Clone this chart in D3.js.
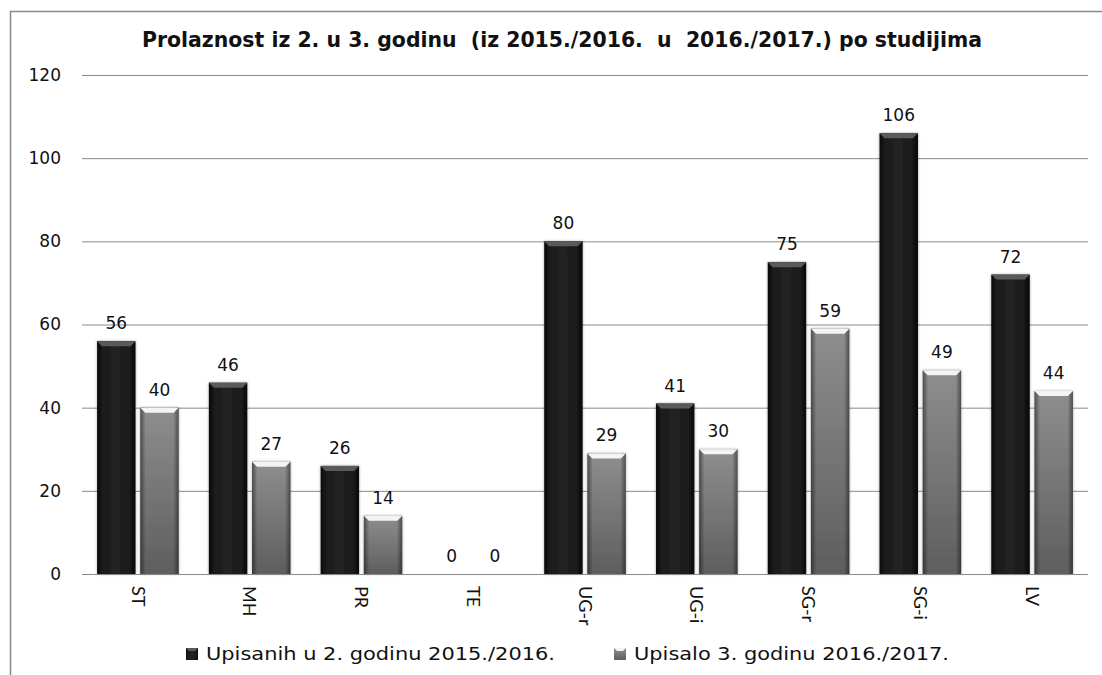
<!DOCTYPE html>
<html>
<head>
<meta charset="utf-8">
<script src="https://cdn.jsdelivr.net/npm/d3@7"></script>
<style>
  body { margin: 0; background: #fff; }
  svg text { font-family: "DejaVu Sans", sans-serif; fill: #111; }
</style>
</head>
<body>
<div id="chart"></div>
<script>
// data
var categories = ["ST", "MH", "PR", "TE", "UG-r", "UG-i", "SG-r", "SG-i", "LV"];
var upisanih = [56, 46, 26, 0, 80, 41, 75, 106, 72];
var upisalo = [40, 27, 14, 0, 29, 30, 59, 49, 44];
var seriesNames = ["Upisanih u 2. godinu 2015./2016.", "Upisalo 3. godinu 2016./2017."];
var yTicks = [0, 20, 40, 60, 80, 100, 120];

var W = 1102, H = 675;
var margin = {top: 75, left: 82, right: 14, bottom: 101};
var width = W - margin.left - margin.right,
    height = H - margin.top - margin.bottom;

var svg = d3.select("#chart").append("svg")
    .attr("width", W).attr("height", H);

// outer border
svg.append("rect")
    .attr("x", 10.5).attr("y", 11.5)
    .attr("width", W).attr("height", H)
    .attr("fill", "none").attr("stroke", "#888").attr("stroke-width", 1.5);

var defs = svg.append("defs");

// black bar gradient
var gb = defs.append("linearGradient").attr("id", "gBlack").attr("x1", 0).attr("x2", 1).attr("y1", 0).attr("y2", 0);
gb.append("stop").attr("offset", "0%").attr("stop-color", "#080808");
gb.append("stop").attr("offset", "15%").attr("stop-color", "#1c1c1c");
gb.append("stop").attr("offset", "50%").attr("stop-color", "#222");
gb.append("stop").attr("offset", "85%").attr("stop-color", "#1a1a1a");
gb.append("stop").attr("offset", "100%").attr("stop-color", "#050505");

// grey bar gradient
var gg = defs.append("linearGradient").attr("id", "gGrey").attr("x1", 0).attr("x2", 0).attr("y1", 0).attr("y2", 1);
gg.append("stop").attr("offset", "0%").attr("stop-color", "#8e8e8e");
gg.append("stop").attr("offset", "100%").attr("stop-color", "#5e5e5e");

var ge = defs.append("linearGradient").attr("id", "gEdge").attr("x1", 0).attr("x2", 1).attr("y1", 0).attr("y2", 0);
ge.append("stop").attr("offset", "0%").attr("stop-color", "#000").attr("stop-opacity", 0.45);
ge.append("stop").attr("offset", "14%").attr("stop-color", "#000").attr("stop-opacity", 0);
ge.append("stop").attr("offset", "86%").attr("stop-color", "#000").attr("stop-opacity", 0);
ge.append("stop").attr("offset", "100%").attr("stop-color", "#000").attr("stop-opacity", 0.45);

var shadow = defs.append("filter").attr("id", "shadow").attr("x", "-20%").attr("y", "-5%").attr("width", "140%").attr("height", "110%");
shadow.append("feGaussianBlur").attr("in", "SourceAlpha").attr("stdDeviation", 1.5).attr("result", "b");
shadow.append("feComponentTransfer").attr("in", "b").attr("result", "s")
    .append("feFuncA").attr("type", "linear").attr("slope", 0.35);
var fm = shadow.append("feMerge");
fm.append("feMergeNode").attr("in", "s");
fm.append("feMergeNode").attr("in", "SourceGraphic");

// title
svg.append("text")
    .attr("x", 142).attr("y", 47)
    .attr("textLength", 840).attr("lengthAdjust", "spacingAndGlyphs")
    .style("white-space", "pre")
    .style("font-size", "21px").style("font-weight", "bold")
    .text("Prolaznost iz 2. u 3. godinu  (iz 2015./2016.  u  2016./2017.) po studijima");

var g = svg.append("g").attr("transform", "translate(" + margin.left + "," + margin.top + ")");

var y = d3.scaleLinear().domain([0, 120]).range([height, 0]);
var x0 = d3.scaleBand().domain(categories).range([0, width]).paddingInner(0.27).paddingOuter(0.135);
var x1 = d3.scaleBand().domain([0, 1]).range([0, x0.bandwidth()]).paddingInner(0.11);

// gridlines
g.selectAll("line.grid").data(yTicks.slice(1)).enter().append("line")
    .attr("x1", 0).attr("x2", width)
    .attr("y1", function(d){ return y(d) + 0.5; }).attr("y2", function(d){ return y(d) + 0.5; })
    .attr("stroke", "#8a8a8a").attr("stroke-width", 1);

// y labels
g.selectAll("text.ytick").data(yTicks).enter().append("text")
    .attr("x", -21).attr("y", function(d){ return y(d); })
    .attr("dy", "0.35em").attr("text-anchor", "end")
    .style("font-size", "17px")
    .text(function(d){ return d; });

// bars
var rows = categories.map(function(c, i){ return {cat: c, vals: [upisanih[i], upisalo[i]]}; });
var groups = g.selectAll("g.cat").data(rows).enter().append("g")
    .attr("transform", function(d){ return "translate(" + x0(d.cat) + ",0)"; });

var bars = groups.selectAll("g.bar").data(function(d){ return d.vals.map(function(v, k){ return {v: v, k: k}; }); })
    .enter().append("g").filter(function(d){ return d.v > 0; });

bars.append("rect")
    .attr("x", function(d){ return x1(d.k); })
    .attr("y", function(d){ return y(d.v); })
    .attr("width", x1.bandwidth())
    .attr("height", function(d){ return height - y(d.v); })
    .attr("fill", function(d){ return d.k === 0 ? "url(#gBlack)" : "url(#gGrey)"; })
    .attr("filter", "url(#shadow)");

bars.filter(function(d){ return d.k === 1; }).append("rect")
    .attr("x", function(d){ return x1(d.k); })
    .attr("y", function(d){ return y(d.v); })
    .attr("width", x1.bandwidth())
    .attr("height", function(d){ return height - y(d.v); })
    .attr("fill", "url(#gEdge)");

// top bevel
bars.append("path")
    .attr("d", function(d){
        var xl = x1(d.k), xr = xl + x1.bandwidth(), yt = y(d.v), b = 5;
        return "M" + xl + "," + yt + "L" + xr + "," + yt + "L" + (xr - b) + "," + (yt + b) + "L" + (xl + b) + "," + (yt + b) + "Z";
    })
    .attr("fill", function(d){ return d.k === 0 ? "#5a5a5a" : "#f4f4f4"; });

// value labels
groups.selectAll("text.val").data(function(d){ return d.vals.map(function(v, k){ return {v: v, k: k}; }); })
    .enter().append("text")
    .attr("x", function(d){ return x1(d.k) + x1.bandwidth() / 2; })
    .attr("y", function(d){ return y(d.v) - 12; })
    .attr("text-anchor", "middle")
    .style("font-size", "17px")
    .text(function(d){ return d.v; });

// axis baseline
g.append("line")
    .attr("x1", 0).attr("x2", width)
    .attr("y1", height + 0.5).attr("y2", height + 0.5)
    .attr("stroke", "#8a8a8a");

// x labels rotated
g.selectAll("text.xlab").data(categories).enter().append("text")
    .attr("transform", function(d){ return "translate(" + (x0(d) + x0.bandwidth() / 2) + "," + (height + 12) + ") rotate(90)"; })
    .attr("dy", "0.35em")
    .style("font-family", "Lato, sans-serif")
    .style("font-size", "18px")
    .text(function(d){ return d; });

// legend
var legendX = [186, 614];
var legendLen = [349, 315];
var leg = svg.selectAll("g.legend").data(seriesNames).enter().append("g")
    .attr("transform", function(d, i){ return "translate(" + legendX[i] + ",654)"; });
leg.append("rect")
    .attr("x", 0).attr("y", -6).attr("width", 12).attr("height", 12)
    .attr("fill", function(d, i){ return i === 0 ? "url(#gBlack)" : "url(#gGrey)"; });
leg.append("path")
    .attr("d", "M0,-6L12,-6L9,-3L3,-3Z")
    .attr("fill", function(d, i){ return i === 0 ? "#5a5a5a" : "#f4f4f4"; });
leg.append("text")
    .attr("x", 20).attr("y", 0).attr("dy", "0.36em")
    .attr("textLength", function(d, i){ return legendLen[i]; })
    .attr("lengthAdjust", "spacingAndGlyphs")
    .style("font-size", "18px")
    .text(function(d){ return d; });
</script>
</body>
</html>
